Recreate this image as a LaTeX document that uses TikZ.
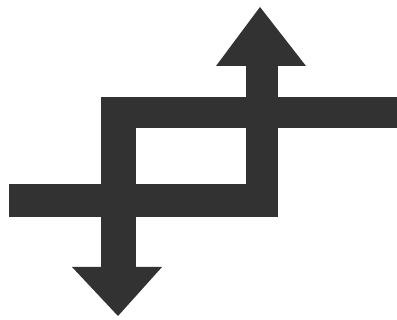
\documentclass[tikz,border=0pt]{standalone}
\usepackage{tikz}
\definecolor{inkgray}{RGB}{50,50,50}
\tikzset{
  band/.style={fill=inkgray, draw=none},
  head/.style={fill=inkgray, draw=none},
}
\begin{document}
\begin{tikzpicture}[x=1pt,y=-1pt]
  \path[use as bounding box] (0,0) rectangle (397,320);

  % Lower band with the rising arrow.
  \fill[band] (9,184) rectangle (278,217);
  \fill[band] (246,66) rectangle (278,217);
  \fill[head] (216,66) -- (260,7) -- (306,66) -- cycle;

  % Upper band with the falling arrow.
  \fill[band] (101,97) rectangle (397,128);
  \fill[band] (101,97) rectangle (136,268);
  \fill[head] (72,267) -- (118,316) -- (162,267) -- cycle;
\end{tikzpicture}
\end{document}
